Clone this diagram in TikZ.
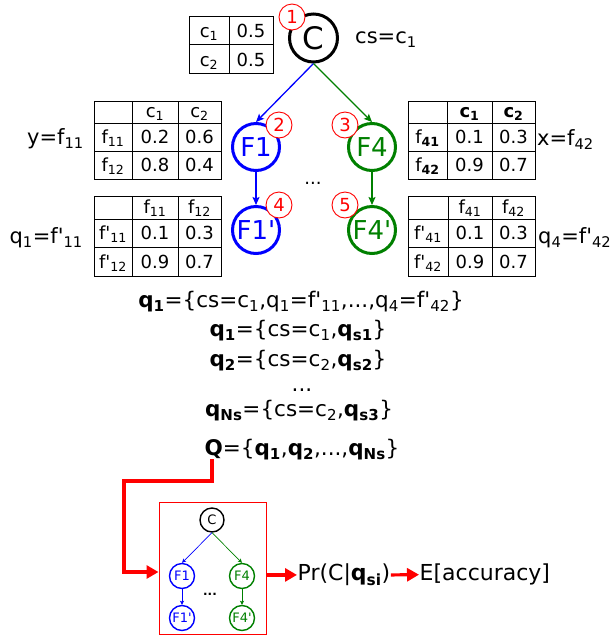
\documentclass[tikz,border=0pt]{standalone}
\usepackage{fontspec}
\setmainfont{DejaVu Sans}[Ligatures=TeXOff]
\usetikzlibrary{arrows.meta}
\newcommand\sbs[1]{\textsubscript{#1}}
\newcommand\bsb[1]{\textsubscript{\textbf{#1}}}
\definecolor{dgreen}{RGB}{0,128,0}
\definecolor{bblue}{RGB}{0,0,255}
\newcommand\tabgrid[8]{%
  \draw[tabline] (#1,#5) rectangle (#4,#8);
  \draw[tabline] (#2,#5) -- (#2,#8) (#3,#5) -- (#3,#8) (#1,#6) -- (#4,#6) (#1,#7) -- (#4,#7);}
\begin{document}
\begin{tikzpicture}[x=1pt,y=-1pt,
  lbl/.style={font=\fontsize{21}{25}\selectfont, inner sep=0pt},
  eq/.style={font=\fontsize{21.5}{26}\selectfont, inner sep=0pt, anchor=mid},
  cell/.style={font=\fontsize{18}{22}\selectfont, inner sep=0pt, anchor=base},
  tabline/.style={line width=0.8pt, black},
  bignode/.style={circle, draw, line width=3pt, minimum size=47pt, inner sep=0pt, font=\fontsize{26}{30}\selectfont},
  numnode/.style={circle, draw=red, line width=0.9pt, minimum size=26pt, inner sep=0pt, text=red, fill=white, font=\fontsize{18}{20}\selectfont},
  smallnode/.style={circle, draw, line width=1.4pt, minimum size=25pt, inner sep=0pt, font=\fontsize{13}{15}\selectfont},
  toparrow/.style={line width=1.3pt, -{Stealth[length=8pt,width=7pt,inset=1.5pt]}},
  smallarrow/.style={line width=0.7pt, -{Stealth[length=4pt,width=4pt,inset=0.8pt]}},
  redarrow/.style={red, line width=3.2pt, -{Triangle[length=12pt,width=13pt]}},
]
\useasboundingbox (0,0) rectangle (612,641);

% ---------- top tree ----------
\node[bignode, black, minimum size=48pt, font=\fontsize{31}{34}\selectfont] (C) at (313.5,38) {C};
\node[bignode, bblue] (F1) at (256,147) {F1};
\node[bignode, dgreen] (F4) at (372,147) {F4};
\node[bignode, bblue] (F1p) at (256,230) {F1'};
\node[bignode, dgreen] (F4p) at (372,230) {F4'};

\draw[toparrow, bblue] (C.south) -- (F1.north);
\draw[toparrow, dgreen] (C.south) -- (F4.north);
\draw[toparrow, bblue] (F1.south) -- (F1p.north);
\draw[toparrow, dgreen] (F4.south) -- (F4p.north);

\node[numnode] (n1) at (292,17) {1};
\node[numnode] (n2) at (279,125) {2};
\node[numnode] (n3) at (345,125) {3};
\node[numnode] (n4) at (279,205) {4};
\node[numnode] (n5) at (345,205) {5};

\node[cell, anchor=base] (dotsA) at (313,184) {...};

% ---------- labels ----------
\node[lbl, anchor=mid west] (csl) at (355,41) {cs=c\sbs{1}};
\node[lbl, anchor=mid east] (yl) at (84,142) {y=f\sbs{11}};
\node[lbl, anchor=mid west] (xl) at (537,143) {x=f\sbs{42}};
\node[lbl, anchor=mid east] (q1l) at (83,241) {q\sbs{1}=f'\sbs{11}};
\node[lbl, anchor=mid west] (q4l) at (538,241) {q\sbs{4}=f'\sbs{42}};

% ---------- table C ----------
\draw[tabline] (189,16) rectangle (273,73);
\draw[tabline] (229,16) -- (229,73) (189,44) -- (273,44);
\node[cell] (tc11) at (209,37) {c\sbs{1}};
\node[cell] (tc12) at (251,37) {0.5};
\node[cell] (tc21) at (209,66) {c\sbs{2}};
\node[cell] (tc22) at (251,66) {0.5};

% ---------- table F1 ----------
\tabgrid{94}{132}{178}{221}{101}{123}{151}{179}
\node[cell] (ta01) at (155,117) {c\sbs{1}};
\node[cell] (ta02) at (199.5,117) {c\sbs{2}};
\node[cell] (ta10) at (113,143.5) {f\sbs{11}};
\node[cell] (ta11) at (155,143.5) {0.2};
\node[cell] (ta12) at (199.5,143.5) {0.6};
\node[cell] (ta20) at (113,171.5) {f\sbs{12}};
\node[cell] (ta21) at (155,171.5) {0.8};
\node[cell] (ta22) at (199.5,171.5) {0.4};

% ---------- table F4 ----------
\tabgrid{408}{447}{492}{535}{101}{123}{151}{179}
\node[cell] (tb01) at (469.5,117) {\textbf{c\bsb{1}}};
\node[cell] (tb02) at (513.5,117) {\textbf{c\bsb{2}}};
\node[cell] (tb10) at (427.5,143.5) {f\bsb{41}};
\node[cell] (tb11) at (469.5,143.5) {0.1};
\node[cell] (tb12) at (513.5,143.5) {0.3};
\node[cell] (tb20) at (427.5,171.5) {f\bsb{42}};
\node[cell] (tb21) at (469.5,171.5) {0.9};
\node[cell] (tb22) at (513.5,171.5) {0.7};

% ---------- table F1' ----------
\tabgrid{94}{132}{178}{221}{196}{219}{247}{276}
\node[cell] (tc01) at (155,213) {f\sbs{11}};
\node[cell] (tc02) at (199.5,213) {f\sbs{12}};
\node[cell] (tc10) at (113,239.5) {f'\sbs{11}};
\node[cell] (tc11b) at (155,239.5) {0.1};
\node[cell] (tc12b) at (199.5,239.5) {0.3};
\node[cell] (tc20) at (113,268) {f'\sbs{12}};
\node[cell] (tc21b) at (155,268) {0.9};
\node[cell] (tc22b) at (199.5,268) {0.7};

% ---------- table F4' ----------
\tabgrid{408}{448}{492}{535}{196}{219}{247}{276}
\node[cell] (td01) at (470,213) {f\sbs{41}};
\node[cell] (td02) at (513.5,213) {f\sbs{42}};
\node[cell] (td10) at (428,239.5) {f'\sbs{41}};
\node[cell] (td11) at (470,239.5) {0.1};
\node[cell] (td12) at (513.5,239.5) {0.3};
\node[cell] (td20) at (428,268) {f'\sbs{42}};
\node[cell] (td21) at (470,268) {0.9};
\node[cell] (td22) at (513.5,268) {0.7};

% ---------- equations ----------
\node[eq] (e1) at (301,305) {\textbf{q\bsb{1}}=\{cs=c\sbs{1},q\sbs{1}=f'\sbs{11},...,q\sbs{4}=f'\sbs{42}\}};
\node[eq] (e2) at (298,334) {\textbf{q\bsb{1}}=\{cs=c\sbs{1},\textbf{q\bsb{s1}}\}};
\node[eq] (e3) at (298,364) {\textbf{q\bsb{2}}=\{cs=c\sbs{2},\textbf{q\bsb{s2}}\}};
\node[eq, anchor=base] (e4) at (302,391) {...};
\node[eq] (e5) at (299,414) {\textbf{q\bsb{Ns}}=\{cs=c\sbs{2},\textbf{q\bsb{s3}}\}};
\node[eq] (eQ) at (302,453) {\textbf{Q}=\{\textbf{q\bsb{1}},\textbf{q\bsb{2}},...,\textbf{q\bsb{Ns}}\}};

% ---------- bottom box ----------
\node[draw=red, line width=1pt, minimum width=107pt, minimum height=132pt, inner sep=0pt] (box) at (212.5,568) {};
\node[smallnode, black, minimum size=24pt] (sC) at (212,520) {C};
\node[smallnode, bblue] (sF1) at (182,576) {F1};
\node[smallnode, dgreen] (sF4) at (242,576) {F4};
\node[smallnode, bblue] (sF1p) at (182,618) {F1'};
\node[smallnode, dgreen] (sF4p) at (242,618) {F4'};
\draw[smallarrow, bblue] (sC.south) -- (sF1.north);
\draw[smallarrow, dgreen] (sC.south) -- (sF4.north);
\draw[smallarrow, bblue] (sF1.south) -- (sF1p.north);
\draw[smallarrow, dgreen] (sF4.south) -- (sF4p.north);
\node[font=\fontsize{12}{14}\selectfont\bfseries, inner sep=0pt, anchor=base] (sdots) at (210,595) {...};

\coordinate (qs) at (212,459);
\draw[redarrow] (qs) -- (212,481) -- (124,481) |- ([yshift=-4pt]box.west);

\node[font=\fontsize{22}{26}\selectfont, inner sep=0.5pt, anchor=mid west] (Pr) at (297,578) {Pr(C|\textbf{q\bsb{si}})};
\node[font=\fontsize{22}{26}\selectfont, inner sep=0.5pt, anchor=mid west] (E) at (419,578) {E[accuracy]};
\draw[redarrow] (box.east |- Pr.west) -- (Pr.west);
\draw[redarrow] (Pr.east) -- (E.west);
\end{tikzpicture}
\end{document}
